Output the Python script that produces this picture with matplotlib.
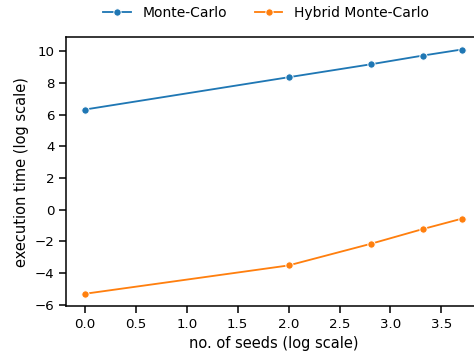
import matplotlib
matplotlib.use("Agg")
import matplotlib.pyplot as plt

seeds_log = [0.0, 2.0, 2.81, 3.32, 3.70]
mc_time = [6.32, 8.36, 9.18, 9.73, 10.11]
hmc_time = [-5.31, -3.52, -2.15, -1.22, -0.57]
series_names = ["Monte-Carlo", "Hybrid Monte-Carlo"]
colors = ["#1f77b4", "#ff7f0e"]

sc = 0.88
fig = plt.figure(figsize=(4.74, 3.56), dpi=100)
ax = fig.add_axes([66/474, 1-306/356, (480.6-66)/474, (306-37.3)/356])

for vals, name, c in zip([mc_time, hmc_time], series_names, colors):
    ax.plot(seeds_log, vals, color=c, marker='o', markersize=6*sc,
            markeredgecolor='white', markeredgewidth=0.75*sc, linewidth=1.5*sc, label=name)

ax.set_xticks([0.0, 0.5, 1.0, 1.5, 2.0, 2.5, 3.0, 3.5])
ax.set_yticks([-6, -4, -2, 0, 2, 4, 6, 8, 10])
ax.set_xlabel("no. of seeds (log scale)", fontsize=12*sc)
ax.set_ylabel("execution time (log scale)", fontsize=12*sc)
ax.tick_params(labelsize=11*sc, length=6*sc, width=1.25*sc, pad=3.5*sc)
for s in ax.spines.values():
    s.set_linewidth(1.25*sc)

fig.legend(loc='center', bbox_to_anchor=(266/474, 1-13/356), ncol=2, frameon=False,
           fontsize=10, columnspacing=2.0, handlelength=2.0)

fig.savefig("out.png", dpi=100)
